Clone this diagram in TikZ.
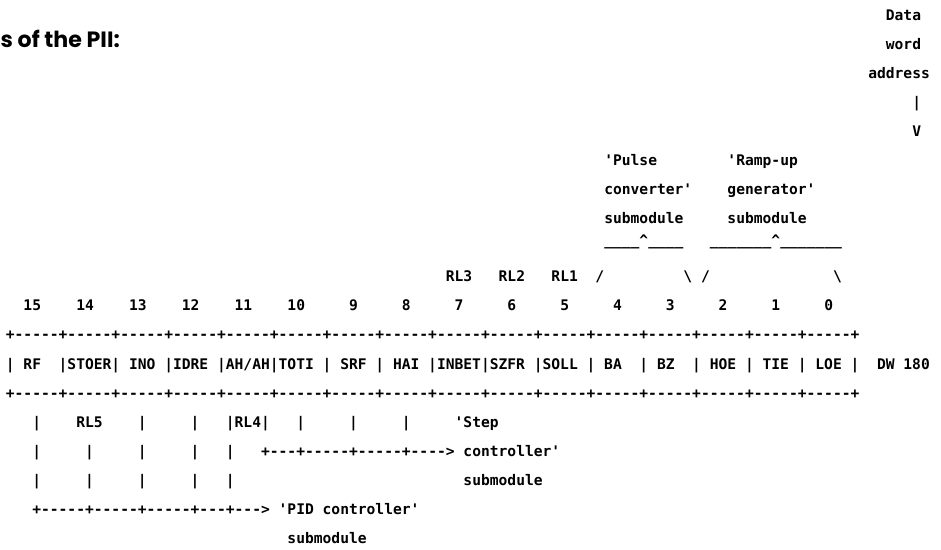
\documentclass[tikz,border=0pt]{standalone}
\usepackage{fontspec}
\setmonofont{DejaVu Sans Mono}
\newfontfamily\headfont{Poppins}
\usetikzlibrary{positioning}
\tikzset{
  asc/.style={anchor=base west, inner sep=0pt, xshift=-3.3pt, yshift=-4pt,
    font=\ttfamily\bfseries\fontsize{10.963}{12}\selectfont},
  head/.style={anchor=base west, inner sep=0pt,
    font=\headfont\bfseries\fontsize{16.6}{20}\selectfont},
}
\begin{document}
\begin{tikzpicture}[x=6.6pt, y=-21.795pt]
  \useasboundingbox (-1.136,-0.516) rectangle (105.795,18.376);

  % Heading at the left edge
  \node[head] (title) at (-1.09,1.12) {s of the PII:};

  % Data word address pointer
  \node[asc] (dat)  at (100,0) {Data};
  \node[asc] (wrd)  at (100,1) {word};
  \node[asc] (adr)  at (98,2)  {address};
  \node[asc] (darr) at (103,3) {|};
  \node[asc] (dtip) at (103,4) {V};

  % Submodule labels over bits 4..0
  \node[asc] (lblA) at (68,5) {'Pulse~~~~~~~~'Ramp-up};
  \node[asc] (lblB) at (68,6) {converter'~~~~generator'};
  \node[asc] (lblC) at (68,7) {submodule~~~~~submodule};
  \node[asc] (brace) at (68,7.75)
       {\_\_\_\_\textasciicircum\_\_\_\_~~~\_\_\_\_\_\_\_\textasciicircum\_\_\_\_\_\_\_};
  \node[asc] (rlrow) at (50,9)
       {RL3~~~RL2~~~RL1~~/~~~~~~~~~\textbackslash~/~~~~~~~~~~~~~~\textbackslash};

  % Bit numbers
  \node[asc] (bits) at (2,10)
       {15~~~~14~~~~13~~~~12~~~~11~~~~10~~~~~9~~~~~8~~~~~7~~~~~6~~~~~5~~~~~4~~~~~3~~~~~2~~~~~1~~~~~0};

  % Data word DW 180
  \node[asc] (topedge) at (0,11)
       {+-----+-----+-----+-----+-----+-----+-----+-----+-----+-----+-----+-----+-----+-----+-----+-----+};
  \node[asc] (fields) at (0,12)
       {|~RF~~|STOER|~INO~|IDRE~|AH/AH|TOTI~|~SRF~|~HAI~|INBET|SZFR~|SOLL~|~BA~~|~BZ~~|~HOE~|~TIE~|~LOE~|~~DW~180};
  \node[asc] (botedge) at (0,13)
       {+-----+-----+-----+-----+-----+-----+-----+-----+-----+-----+-----+-----+-----+-----+-----+-----+};

  % Controller submodules below bits 15..8
  \node[asc] (rlbits) at (3,14)
       {|~~~~RL5~~~~|~~~~~|~~~|RL4|~~~|~~~~~|~~~~~|~~~~~'Step};
  \node[asc] (stepln) at (3,15)
       {|~~~~~|~~~~~|~~~~~|~~~|~~~+---+-----+-----+---->~controller'};
  \node[asc] (pidcols) at (3,16) {|~~~~~|~~~~~|~~~~~|~~~|};
  \node[asc] (stepsub) at (52,16) {submodule};
  \node[asc] (pidln) at (3,17) {+-----+-----+-----+---+--->~'PID controller'};
  \node[asc] (pidsub) at (32,18) {submodule};
\end{tikzpicture}
\end{document}
